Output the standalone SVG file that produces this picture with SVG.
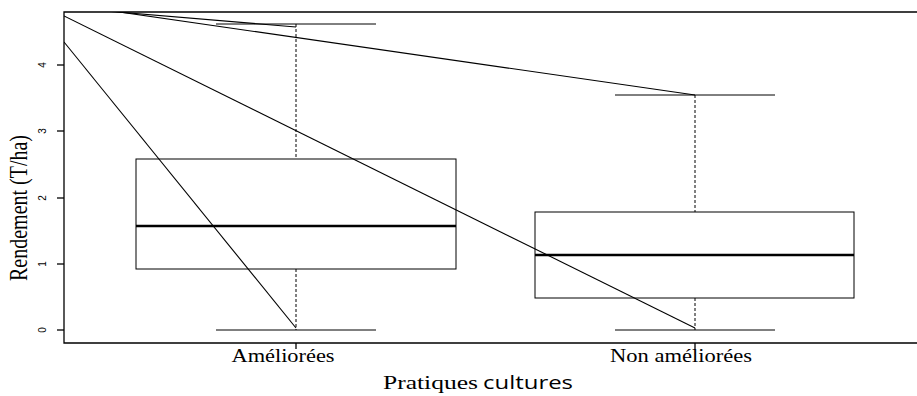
<svg xmlns="http://www.w3.org/2000/svg" width="917" height="396" viewBox="0 0 917 396">
<style>
.ax{stroke:#000;stroke-width:1.3;fill:none}
.bx{stroke:#000;stroke-width:1;fill:none}
.med{stroke:#000;stroke-width:2.5}
.wh{stroke:#000;stroke-width:1;stroke-dasharray:3,2}
.cap{stroke:#000;stroke-width:1}
.ln{stroke:#000;stroke-width:1.1;fill:none}
.tk{font-family:"Liberation Sans",Arial,sans-serif;font-size:10px;fill:#000}
.lab{font-family:"Liberation Serif","Times New Roman",serif;font-size:18px;fill:#000}
.sans{font-family:"Open Sans","Liberation Sans",sans-serif;font-size:18px;fill:#000}
</style>
<defs>
<clipPath id="plot"><rect x="64" y="12" width="853" height="331"/></clipPath>
</defs>
<rect width="917" height="396" fill="#fff"/>
<g id="axes">
<path class="ax" d="M917,12 H64 V343 H917"/>
<g class="ax">
<line x1="57" y1="330" x2="64" y2="330"/>
<line x1="57" y1="264" x2="64" y2="264"/>
<line x1="57" y1="198" x2="64" y2="198"/>
<line x1="57" y1="131" x2="64" y2="131"/>
<line x1="57" y1="65" x2="64" y2="65"/>
<line x1="296" y1="343" x2="296" y2="349"/>
<line x1="695" y1="343" x2="695" y2="349"/>
</g>
<g class="tk" text-anchor="middle">
<text transform="translate(46,330) rotate(-90)">0</text>
<text transform="translate(46,264) rotate(-90)">1</text>
<text transform="translate(46,198) rotate(-90)">2</text>
<text transform="translate(46,131) rotate(-90)">3</text>
<text transform="translate(46,65) rotate(-90)">4</text>
</g>
<text class="lab" text-anchor="middle" transform="translate(27,208) rotate(-90) scale(1,1.3)" textLength="146" lengthAdjust="spacingAndGlyphs" style="font-size:20px">Rendement (T/ha)</text>
<text class="lab" x="283" y="362" text-anchor="middle" textLength="103" lengthAdjust="spacingAndGlyphs">Améliorées</text>
<text class="lab" x="681" y="362" text-anchor="middle" textLength="142" lengthAdjust="spacingAndGlyphs">Non améliorées</text>
<text class="lab" x="383" y="389" textLength="95" lengthAdjust="spacingAndGlyphs" style="font-size:19px">Pratiques</text>
<text class="sans" x="483" y="389" textLength="90" lengthAdjust="spacingAndGlyphs">cultures</text>
</g>
<g id="box-ameliorees">
<line class="wh" x1="296" y1="24" x2="296" y2="159"/>
<line class="wh" x1="296" y1="269" x2="296" y2="330"/>
<line class="cap" x1="216" y1="24" x2="376" y2="24"/>
<line class="cap" x1="216" y1="330" x2="376" y2="330"/>
<rect class="bx" x="136" y="159" width="320" height="110" fill="#fff"/>
<line class="med" x1="136" y1="226" x2="456" y2="226"/>
</g>
<g id="box-non-ameliorees">
<line class="wh" x1="695" y1="95" x2="695" y2="212"/>
<line class="wh" x1="695" y1="298" x2="695" y2="330"/>
<line class="cap" x1="615" y1="95" x2="775" y2="95"/>
<line class="cap" x1="615" y1="330" x2="775" y2="330"/>
<rect class="bx" x="535" y="212" width="319" height="86" fill="#fff"/>
<line class="med" x1="535" y1="255" x2="854" y2="255"/>
</g>
<g id="connectors" clip-path="url(#plot)">
<line class="ln" x1="64" y1="42" x2="296" y2="328"/>
<line class="ln" x1="64" y1="16" x2="695" y2="328"/>
<line class="ln" x1="64" y1="7.5" x2="296" y2="27"/>
<line class="ln" x1="64" y1="4" x2="695" y2="95"/>
</g>
</svg>
